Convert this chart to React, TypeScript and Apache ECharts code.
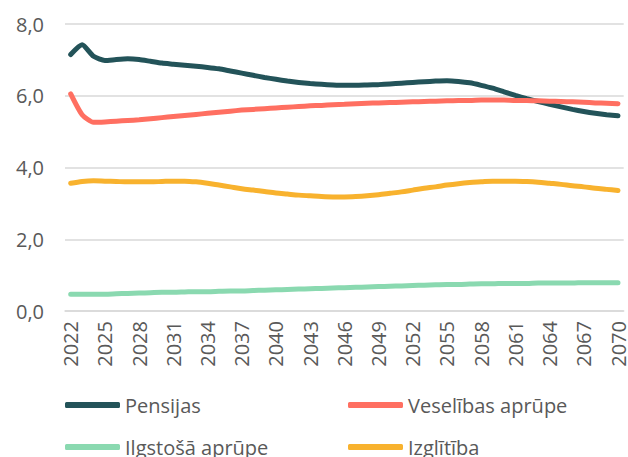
import React, { useEffect, useRef } from "react";
import * as echarts from "echarts";

const years: string[] = [];
for (let y = 2022; y <= 2070; y++) years.push(String(y));

const pensijas = [
  7.15, 7.42, 7.10, 6.98, 7.01, 7.03, 7.01, 6.96, 6.91, 6.88,
  6.85, 6.82, 6.79, 6.75, 6.69, 6.63, 6.57, 6.51, 6.46, 6.41,
  6.37, 6.34, 6.32, 6.30, 6.29, 6.29, 6.30, 6.31, 6.33, 6.35,
  6.37, 6.39, 6.41, 6.42, 6.40, 6.36, 6.29, 6.21, 6.11, 6.01,
  5.92, 5.84, 5.76, 5.69, 5.62, 5.56, 5.51, 5.47, 5.44,
];

const veselibas = [
  6.05, 5.47, 5.26, 5.27, 5.29, 5.31, 5.33, 5.36, 5.39, 5.42,
  5.45, 5.48, 5.51, 5.54, 5.57, 5.60, 5.62, 5.64, 5.66, 5.68,
  5.70, 5.72, 5.73, 5.75, 5.76, 5.78, 5.79, 5.80, 5.81, 5.82,
  5.83, 5.84, 5.85, 5.86, 5.87, 5.87, 5.88, 5.88, 5.88, 5.87,
  5.87, 5.86, 5.85, 5.84, 5.83, 5.82, 5.80, 5.79, 5.78,
];

const ilgstosa = [
  0.47, 0.47, 0.47, 0.47, 0.48, 0.49, 0.50, 0.51, 0.52, 0.52,
  0.53, 0.54, 0.54, 0.55, 0.56, 0.56, 0.57, 0.58, 0.59, 0.60,
  0.61, 0.62, 0.63, 0.64, 0.65, 0.66, 0.67, 0.68, 0.69, 0.70,
  0.71, 0.72, 0.73, 0.74, 0.74, 0.75, 0.76, 0.76, 0.77, 0.77,
  0.77, 0.78, 0.78, 0.78, 0.78, 0.79, 0.79, 0.79, 0.79,
];

const izglitiba = [
  3.56, 3.61, 3.63, 3.62, 3.61, 3.60, 3.60, 3.60, 3.61, 3.62,
  3.62, 3.60, 3.56, 3.51, 3.46, 3.41, 3.37, 3.33, 3.29, 3.26,
  3.23, 3.21, 3.19, 3.18, 3.18, 3.19, 3.21, 3.24, 3.28, 3.32,
  3.37, 3.42, 3.46, 3.51, 3.55, 3.58, 3.60, 3.62, 3.62, 3.62,
  3.61, 3.59, 3.56, 3.53, 3.49, 3.46, 3.42, 3.39, 3.36,
];

const FONT = "'Open Sans', sans-serif";
const TEXT = "#595959";
const FS = 20;

export default function App() {
  const ref = useRef<HTMLDivElement>(null);
  useEffect(() => {
    if (!ref.current) return;
    const chart = echarts.init(ref.current, undefined, { renderer: "svg" });
    const mk = (name: string, data: number[], color: string, smooth: number) => ({
      name,
      type: "line",
      data,
      smooth,
      showSymbol: false,
      symbol: "none",
      lineStyle: { color, width: 5, cap: "round", join: "round" },
      itemStyle: { color },
    });
    const leg = (name: string, left: number, top: number) => ({
      data: [name],
      orient: "horizontal",
      left,
      top,
      padding: 0,
      itemWidth: 55,
      itemHeight: 6,
      icon: "roundRect",
      textStyle: { color: TEXT, fontSize: FS, fontFamily: FONT, lineHeight: 24 },
    });
    chart.setOption({
      animation: false,
      textStyle: { fontFamily: FONT },
      grid: { left: 65, right: 4, top: 24, bottom: 146, containLabel: false },
      xAxis: {
        type: "category",
        data: years,
        boundaryGap: true,
        axisLine: { lineStyle: { color: "#d9d9d9", width: 1.5 } },
        axisTick: { show: false },
        axisLabel: {
          interval: 2,
          rotate: 90,
          color: TEXT,
          fontSize: FS,
          fontFamily: FONT,
          margin: 10,
        },
      },
      yAxis: {
        type: "value",
        min: 0,
        max: 8,
        interval: 2,
        axisLine: { show: false },
        axisTick: { show: false },
        splitLine: { lineStyle: { color: "#d9d9d9", width: 1.5 } },
        axisLabel: {
          color: TEXT,
          fontSize: FS,
          fontFamily: FONT,
          margin: 21,
          formatter: (v: number) => v.toFixed(1).replace(".", ","),
        },
      },
      legend: [
        leg("Pensijas", 65, 393),
        leg("Ilgstošā aprūpe", 65, 435),
        leg("Veselības aprūpe", 348, 393),
        leg("Izglītība", 348, 435),
      ],
      series: [
        mk("Pensijas", pensijas, "#235359", 0.2),
        mk("Veselības aprūpe", veselibas, "#FF6F61", 0.2),
        mk("Ilgstošā aprūpe", ilgstosa, "#8AD9B0", 0.3),
        mk("Izglītība", izglitiba, "#F8B22E", 0.3),
      ],
    });
    return () => chart.dispose();
  }, []);
  return (
    <div
      ref={ref}
      style={{ position: "absolute", left: 0, top: 0, width: 628, height: 457 }}
    />
  );
}
